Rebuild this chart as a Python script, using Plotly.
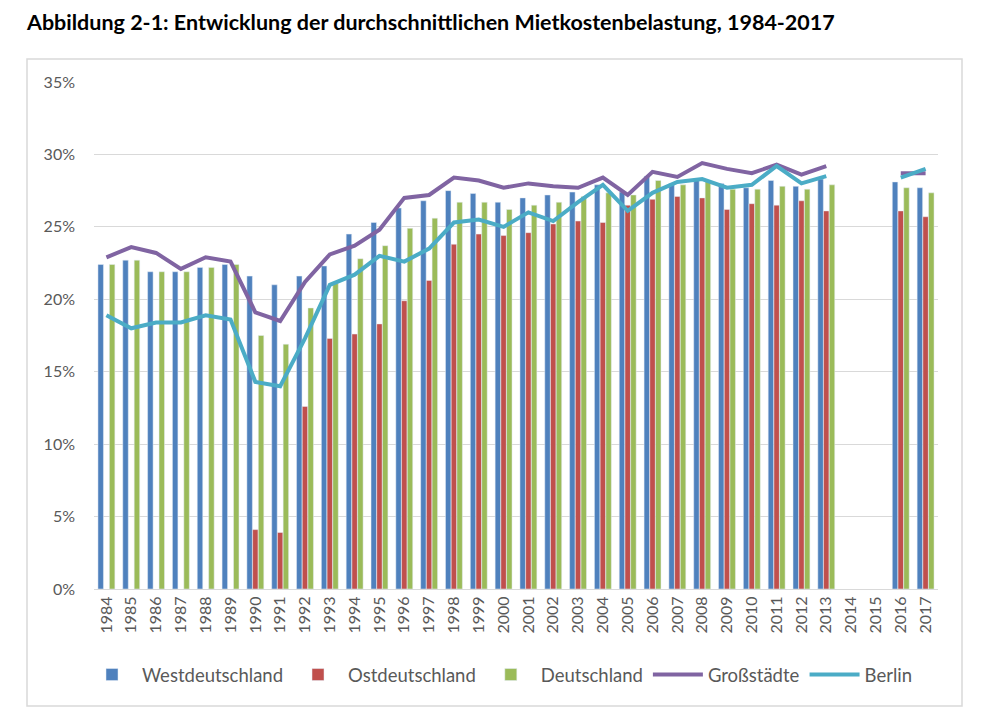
import plotly.graph_objects as go

years = [str(y) for y in range(1984, 2018)]

west = [22.4, 22.7, 21.9, 21.9, 22.2, 22.4, 21.6, 21.0, 21.6, 22.3, 24.5, 25.3, 26.3, 26.8,
        27.5, 27.3, 26.7, 27.0, 27.2, 27.4, 27.9, 27.4, 28.5, 28.0, 28.3, 28.0, 27.7, 28.2,
        27.8, 28.3, None, None, 28.1, 27.7]
ost = [None, None, None, None, None, None, 4.1, 3.9, 12.6, 17.3, 17.6, 18.3, 19.9, 21.3,
       23.8, 24.5, 24.4, 24.6, 25.2, 25.4, 25.3, 26.5, 26.9, 27.1, 27.0, 26.2, 26.6, 26.5,
       26.8, 26.1, None, None, 26.1, 25.7]
deutsch = [22.4, 22.7, 21.9, 21.9, 22.2, 22.4, 17.5, 16.9, 19.4, 21.1, 22.8, 23.7, 24.9, 25.6,
           26.7, 26.7, 26.2, 26.5, 26.7, 27.1, 27.35, 27.2, 28.2, 27.9, 28.2, 27.6, 27.6, 27.8,
           27.6, 27.9, None, None, 27.7, 27.35]
gross = [22.9, 23.6, 23.2, 22.1, 22.9, 22.6, 19.1, 18.5, 21.2, 23.1, 23.7, 24.8, 27.0, 27.2,
         28.4, 28.2, 27.7, 28.0, 27.8, 27.7, 28.4, 27.2, 28.8, 28.45, 29.4, 29.0, 28.7, 29.3,
         28.6, 29.2, None, None, 28.7, 28.7]
berlin = [18.9, 18.0, 18.4, 18.4, 18.9, 18.6, 14.3, 14.0, 17.3, 21.0, 21.7, 23.0, 22.6, 23.5,
          25.3, 25.5, 25.0, 26.0, 25.4, 26.7, 27.9, 26.1, 27.35, 28.1, 28.3, 27.7, 27.9, 29.2,
          28.0, 28.5, None, None, 28.4, 29.0]

FONT = "Lato"
GRAY = "#595959"
OFF = 8  # browser body margin

W, H = 983, 721

fig = go.Figure()
fig.add_trace(go.Bar(x=years, y=west, name="Westdeutschland", marker_color="#4F81BD"))
fig.add_trace(go.Bar(x=years, y=ost, name="Ostdeutschland", marker_color="#C0504D"))
fig.add_trace(go.Bar(x=years, y=deutsch, name="Deutschland", marker_color="#9BBB59"))
fig.add_trace(go.Scatter(x=years, y=gross, name="Großstädte", mode="lines",
                         line=dict(color="#8064A2", width=4), connectgaps=False))
fig.add_trace(go.Scatter(x=years, y=berlin, name="Berlin", mode="lines",
                         line=dict(color="#4BACC6", width=4), connectgaps=False))

# target screen coordinates (page), converted to figure coordinates
L, R, T, B = 94 - OFF, 938 - OFF, 82 - OFF, 589 - OFF
pw, ph = R - L, B - T

def px(x):
    return (x - OFF - L) / pw

def py(y):
    return (B - (y - OFF)) / ph

fig.add_shape(type="rect", xref="paper", yref="paper",
              x0=px(27), x1=px(962), y0=py(706), y1=py(59),
              line=dict(color="#d9d9d9", width=1.5), fillcolor="rgba(0,0,0,0)", layer="below")

fig.update_layout(
    width=W, height=H,
    margin=dict(l=L, r=W - R, t=T, b=H - B),
    paper_bgcolor="white", plot_bgcolor="white",
    font=dict(family=FONT, color=GRAY, size=16),
    barmode="group", bargap=0.31, bargroupgap=0.04,
    title=dict(text="<b>Abbildung 2-1: Entwicklung der durchschnittlichen Mietkostenbelastung, 1984-2017</b>",
               x=(27 - OFF) / W, xanchor="left", xref="container",
               y=1 - (22 - OFF) / H, yanchor="middle", yref="container",
               font=dict(family=FONT, size=21.5, color="black")),
    legend=dict(orientation="h", x=px(500), xanchor="center", y=py(675), yanchor="middle",
                font=dict(family=FONT, size=18.5, color=GRAY), itemwidth=50,
                bgcolor="rgba(0,0,0,0)"),
    showlegend=True,
)
fig.update_xaxes(type="category", tickangle=-90, showgrid=False, showline=True,
                 linecolor="#d9d9d9", linewidth=1, ticks="", tickfont=dict(size=16, color=GRAY),
                 fixedrange=True)
fig.update_yaxes(range=[0, 35], dtick=5, ticksuffix="%", showgrid=True, gridcolor="#d9d9d9",
                 gridwidth=1, zeroline=False, showline=False, ticks="",
                 ticklabelstandoff=18, tickfont=dict(size=16, color=GRAY), fixedrange=True)

fig.write_html("out.html")
